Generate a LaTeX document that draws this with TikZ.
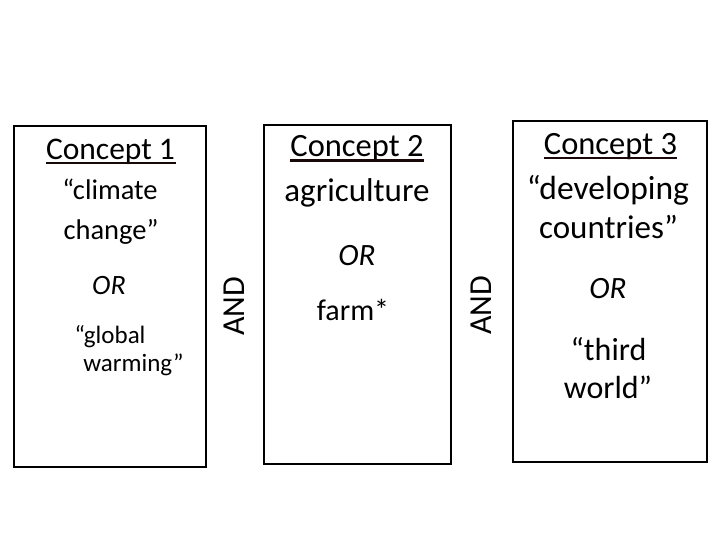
\documentclass[tikz,border=0pt]{standalone}
\usepackage{fontspec}
\setmainfont{Carlito}
\definecolor{ulcol}{RGB}{24,8,8}
\begin{document}
\begin{tikzpicture}[x=1pt,y=-1pt,
  box/.style={draw, line width=2.2pt, inner sep=0pt},
  txt/.style={anchor=base, inner sep=0pt},
  underl/.style={draw=ulcol, line width=2.3pt},
  andlabel/.style={rotate=90, inner sep=0pt, font=\fontsize{32}{38}\selectfont}]
\useasboundingbox (0,0) rectangle (720,540);
% boxes
\node[box, minimum width=192pt, minimum height=341pt] (b1) at (110,296.5) {};
\node[box, minimum width=187pt, minimum height=339pt] (b2) at (357.5,294.5) {};
\node[box, minimum width=194pt, minimum height=341pt] (b3) at (610,291.5) {};
% box 1
\node[txt, font=\fontsize{31.5}{38}\selectfont] (c1) at (110.5,160) {Concept 1};
\draw[underl] (c1.base west) ++(0,3) -- ++(130,0);
\node[txt, font=\fontsize{28.5}{34}\selectfont] (t11) at (110,200) {“climate};
\node[txt, font=\fontsize{28.5}{34}\selectfont] (t12) at (111,240) {change”};
\node[txt, font=\fontsize{28}{34}\selectfont\itshape] (t13) at (109,294) {OR};
\node[txt, font=\fontsize{25}{30}\selectfont] (t14) at (110,343) {“global};
\node[txt, font=\fontsize{25}{30}\selectfont] (t15) at (133.5,371) {warming”};
% box 2
\node[txt, font=\fontsize{32.5}{38}\selectfont] (c2) at (357,157) {Concept 2};
\draw[underl] (c2.base west) ++(0,3.5) -- ++(134,0);
\node[txt, font=\fontsize{33}{40}\selectfont] (t21) at (357,202) {agriculture};
\node[txt, font=\fontsize{31}{38}\selectfont\itshape] (t22) at (357,265) {OR};
\node[txt, font=\fontsize{30}{36}\selectfont] (t23) at (353,320) {farm*};
% box 3
\node[txt, font=\fontsize{32.5}{38}\selectfont] (c3) at (610.5,154.5) {Concept 3};
\draw[underl] (c3.base west) ++(0,3.5) -- ++(133,0);
\node[txt, font=\fontsize{33.5}{40}\selectfont] (t31) at (608,200) {“developing};
\node[txt, font=\fontsize{33}{40}\selectfont] (t32) at (608.5,238) {countries”};
\node[txt, font=\fontsize{31}{38}\selectfont\itshape] (t33) at (608,298) {OR};
\node[txt, font=\fontsize{32}{38}\selectfont] (t34) at (608.5,360) {“third};
\node[txt, font=\fontsize{32}{38}\selectfont] (t35) at (608,398) {world”};
% AND labels
\node[andlabel] (and1) at (234.5,306.5) {AND};
\node[andlabel] (and2) at (481,305.5) {AND};
\end{tikzpicture}
\end{document}
